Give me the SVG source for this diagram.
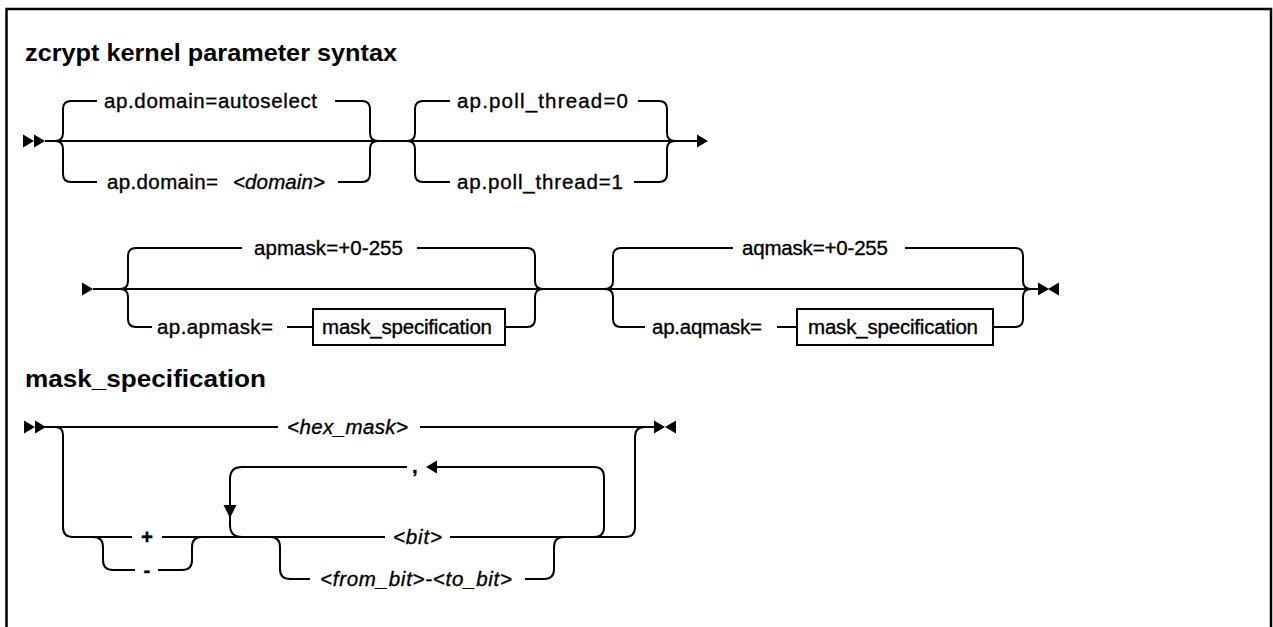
<svg xmlns="http://www.w3.org/2000/svg" width="1273" height="627" viewBox="0 0 1273 627">
<defs>
<style>
.t{font-family:"Liberation Sans",Arial,sans-serif;font-size:20.5px;fill:#000;stroke:#000;stroke-width:0.35}
.i{font-style:italic}
.b{font-weight:bold}
.h{font-family:"Liberation Sans",Arial,sans-serif;font-size:24px;font-weight:bold;fill:#000}
.c{fill:none;stroke:#000;stroke-width:2}
.box{fill:#fff;stroke:#000;stroke-width:2}
.ah{fill:#000}
</style>
<polygon id="tri" points="0,-6.5 11,0 0,6.5"/>
</defs>
<rect x="6.5" y="9" width="1264.5" height="700" fill="#fff" stroke="#000" stroke-width="2.5"/>

<g id="titles">
<text class="h" x="25" y="61" textLength="372" lengthAdjust="spacingAndGlyphs">zcrypt kernel parameter syntax</text>
<text class="h" x="25" y="387" textLength="241" lengthAdjust="spacingAndGlyphs">mask_specification</text>
</g>

<g id="connectors">
<!-- row 1 -->
<use href="#tri" x="23" y="141" class="ah"/>
<use href="#tri" x="34" y="141" class="ah"/>
<path class="c" d="M45,141 H697"/>
<use href="#tri" x="697" y="141" class="ah"/>
<path class="c" d="M55,141 Q63,141 63,133 V109 Q63,101 71,101 H97 M335,101 H362 Q370,101 370,109 V133 Q370,141 378,141"/>
<path class="c" d="M55,141 Q63,141 63,149 V174 Q63,182 71,182 H97 M338,182 H362 Q370,182 370,174 V149 Q370,141 378,141"/>
<path class="c" d="M407,141 Q415,141 415,133 V109 Q415,101 423,101 H450 M638,101 H659 Q667,101 667,109 V133 Q667,141 675,141"/>
<path class="c" d="M407,141 Q415,141 415,149 V174 Q415,182 423,182 H450 M634,182 H659 Q667,182 667,174 V149 Q667,141 675,141"/>
<!-- row 2 -->
<use href="#tri" x="82" y="289" class="ah"/>
<path class="c" d="M93,289 H1038"/>
<use href="#tri" x="1038" y="289" class="ah"/>
<use href="#tri" x="1059" y="289" transform="rotate(180 1059 289)" class="ah"/>
<path class="c" d="M120,289 Q128,289 128,281 V256 Q128,248 136,248 H242 M417,248 H527 Q535,248 535,256 V281 Q535,289 543,289"/>
<path class="c" d="M120,289 Q128,289 128,297 V319 Q128,327 136,327 H152 M287,327 H313 M505,327 H527 Q535,327 535,319 V297 Q535,289 543,289"/>
<path class="c" d="M605,289 Q613,289 613,281 V256 Q613,248 621,248 H733 M905,248 H1015 Q1023,248 1023,256 V281 Q1023,289 1031,289"/>
<path class="c" d="M605,289 Q613,289 613,297 V319 Q613,327 621,327 H645 M777,327 H797 M993,327 H1015 Q1023,327 1023,319 V297 Q1023,289 1031,289"/>
<!-- mask spec -->
<use href="#tri" x="24" y="427" class="ah"/>
<use href="#tri" x="35" y="427" class="ah"/>
<path class="c" d="M45,427 H278 M420,427 H654"/>
<use href="#tri" x="654" y="427" class="ah"/>
<use href="#tri" x="676" y="427" transform="rotate(180 676 427)" class="ah"/>
<path class="c" d="M55,427 Q63,427 63,435 V527 Q63,537 73,537 H132 M162,537 H385 M450,537 H625 Q635,537 635,527 V437 Q635,427 645,427"/>
<path class="c" d="M93,537 Q103,537 103,547 V560 Q103,570 113,570 H135 M158,570 H182 Q192,570 192,560 V547 Q192,537 202,537"/>
<path class="c" d="M594,537 Q604,537 604,527 V477 Q604,467 594,467 H437 M407,467 H242 Q230,467 230,479 V525 Q230,537 242,537"/>
<use href="#tri" x="425" y="467" transform="rotate(180 431 467)" class="ah"/>
<polygon class="ah" points="223.5,505 236.5,505 230,518"/>
<path class="c" d="M270,537 Q280,537 280,547 V569 Q280,579 290,579 H310 M525,579 H544 Q554,579 554,569 V547 Q554,537 564,537"/>
</g>

<g id="n-domain-auto"><text class="t" x="104" y="108" textLength="213">ap.domain=autoselect</text></g>
<g id="n-domain"><text class="t" x="107" y="189" textLength="111">ap.domain=</text><text class="t i" x="233" y="189" textLength="92">&lt;domain&gt;</text></g>
<g id="n-poll0"><text class="t" x="457" y="108" textLength="171">ap.poll_thread=0</text></g>
<g id="n-poll1"><text class="t" x="457" y="189" textLength="166">ap.poll_thread=1</text></g>

<g id="n-apmask-def"><text class="t" x="254" y="255" textLength="149">apmask=+0-255</text></g>
<g id="n-apmask"><text class="t" x="157" y="334" textLength="116">ap.apmask=</text></g>
<g id="n-apmask-spec"><rect class="box" x="313" y="309" width="192" height="36"/><text class="t" x="322" y="334" textLength="170">mask_specification</text></g>
<g id="n-aqmask-def"><text class="t" x="742" y="255" textLength="146">aqmask=+0-255</text></g>
<g id="n-aqmask"><text class="t" x="652" y="334" textLength="110">ap.aqmask=</text></g>
<g id="n-aqmask-spec"><rect class="box" x="797" y="309" width="196" height="36"/><text class="t" x="808" y="334" textLength="170">mask_specification</text></g>

<g id="n-hex"><text class="t i" x="287" y="434" textLength="121">&lt;hex_mask&gt;</text></g>
<g id="n-comma"><text class="t b" x="412" y="473">,</text></g>
<g id="n-plus"><text class="t b" x="147" y="544" text-anchor="middle">+</text></g>
<g id="n-minus"><text class="t b" x="147" y="577" text-anchor="middle">-</text></g>
<g id="n-bit"><text class="t i" x="393" y="544" textLength="49">&lt;bit&gt;</text></g>
<g id="n-range"><text class="t i" x="320" y="586" textLength="192">&lt;from_bit&gt;-&lt;to_bit&gt;</text></g>
</svg>
